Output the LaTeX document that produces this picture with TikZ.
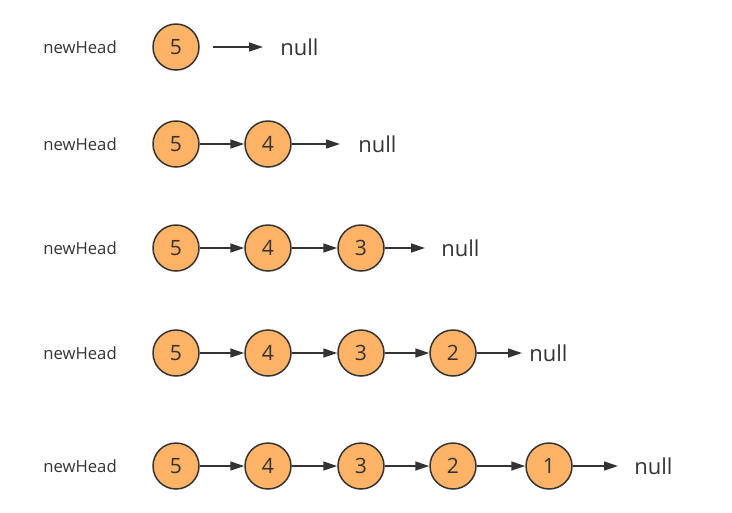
\documentclass[tikz,border=0pt]{standalone}
\usepackage{fontspec}
\setmainfont{Open Sans}
\usetikzlibrary{arrows.meta,positioning}
\usepackage{xcolor}
\definecolor{nodeorange}{HTML}{FFB366}
\definecolor{linegray}{HTML}{333333}

\begin{document}
\begin{tikzpicture}[x=0.02cm,y=-0.02cm,
  listnode/.style={circle,draw=linegray,line width=0.85pt,fill=nodeorange,minimum size=0.92cm,inner sep=0pt,text=linegray,font=\fontsize{12}{12}\selectfont},
  headlabel/.style={font=\fontsize{9.5}{10}\selectfont,text=linegray},
  nulllabel/.style={anchor=west,inner sep=0pt,font=\fontsize{12.5}{13}\selectfont,text=linegray},
  link/.style={-{Triangle[length=0.28cm,width=0.18cm]},line width=0.85pt,draw=linegray}]
\useasboundingbox (0,0) rectangle (732,512);

% row 1
\node[headlabel] (head1) at (80,47) {newHead};
\node[listnode] (r1n5) at (176,47) {5};
\coordinate (r1s) at (213,47);
\coordinate (r1e) at (263,47);
\node[nulllabel] (null1) at (280,47) {null};
\draw[link] (r1s) -- (r1e);

% row 2
\node[headlabel] (head2) at (80,144) {newHead};
\node[listnode] (r2n5) at (176,144) {5};
\node[listnode] (r2n4) at (268,144) {4};
\coordinate (r2e) at (340,144);
\node[nulllabel] (null2) at (358,144) {null};
\draw[link] (r2n5) -- (r2n4);
\draw[link] (r2n4) -- (r2e);

% row 3
\node[headlabel] (head3) at (80,248) {newHead};
\node[listnode] (r3n5) at (176,248) {5};
\node[listnode] (r3n4) at (268,248) {4};
\node[listnode] (r3n3) at (361,248) {3};
\coordinate (r3e) at (425,248);
\node[nulllabel] (null3) at (441,248) {null};
\draw[link] (r3n5) -- (r3n4);
\draw[link] (r3n4) -- (r3n3);
\draw[link] (r3n3) -- (r3e);

% row 4
\node[headlabel] (head4) at (80,353) {newHead};
\node[listnode] (r4n5) at (176,353) {5};
\node[listnode] (r4n4) at (268,353) {4};
\node[listnode] (r4n3) at (361,353) {3};
\node[listnode] (r4n2) at (453,353) {2};
\coordinate (r4e) at (522,353);
\node[nulllabel] (null4) at (529,353) {null};
\draw[link] (r4n5) -- (r4n4);
\draw[link] (r4n4) -- (r4n3);
\draw[link] (r4n3) -- (r4n2);
\draw[link] (r4n2) -- (r4e);

% row 5
\node[headlabel] (head5) at (80,466) {newHead};
\node[listnode] (r5n5) at (176,466) {5};
\node[listnode] (r5n4) at (268,466) {4};
\node[listnode] (r5n3) at (361,466) {3};
\node[listnode] (r5n2) at (453,466) {2};
\node[listnode] (r5n1) at (549,466) {1};
\coordinate (r5e) at (618,466);
\node[nulllabel] (null5) at (634,466) {null};
\draw[link] (r5n5) -- (r5n4);
\draw[link] (r5n4) -- (r5n3);
\draw[link] (r5n3) -- (r5n2);
\draw[link] (r5n2) -- (r5n1);
\draw[link] (r5n1) -- (r5e);
\end{tikzpicture}
\end{document}
